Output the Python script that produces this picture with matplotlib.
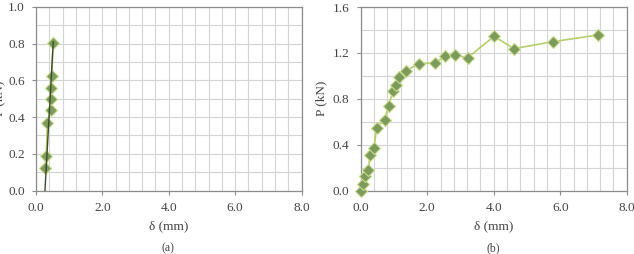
import numpy as np
import matplotlib
matplotlib.use("Agg")
import matplotlib.pyplot as plt
from matplotlib.ticker import MultipleLocator

plt.rcParams['font.family'] = ['Liberation Serif', 'DejaVu Serif']

# panel (a): load vs displacement
delta_a = [0.26, 0.31, 0.34, 0.45, 0.44, 0.45, 0.47, 0.52]
load_a = [0.123, 0.189, 0.368, 0.436, 0.497, 0.557, 0.622, 0.806]
# straight trend line drawn over panel (a)
fit_x = [0.27, 0.52]
fit_y = [0.0, 0.81]

# panel (b)
delta_b = [0.0, 0.08, 0.14, 0.23, 0.28, 0.40, 0.48, 0.72, 0.84, 0.97, 1.07,
           1.16, 1.36, 1.74, 2.22, 2.54, 2.84, 3.22, 4.01, 4.61, 5.79, 7.13]
load_b = [0.0, 0.061, 0.128, 0.183, 0.308, 0.372, 0.549, 0.618, 0.740, 0.865,
          0.917, 0.990, 1.042, 1.106, 1.112, 1.170, 1.179, 1.159, 1.344,
          1.237, 1.298, 1.356]

line_col = '#b5cf6b'
face_col = '#7b9a5c'
edge_col = '#c9dc8c'
grid_col = '#d4d4d4'
spine_col = '#8c8c8c'
text_col = '#444444'

W, H = 634, 254
fig = plt.figure(figsize=(W / 100, H / 100), dpi=100)

def px_axes(l, r, t, b):
    return fig.add_axes([l / W, 1 - b / H, (r - l) / W, (b - t) / H])

ax1 = px_axes(36, 301.5, 7, 190.5)
ax2 = px_axes(360.7, 626.7, 7, 190.5)


def style(ax, ymax, ymajor, yminor):
    ax.set_xlim(0, 8)
    ax.set_ylim(0, ymax)
    ax.xaxis.set_major_locator(MultipleLocator(2))
    ax.xaxis.set_minor_locator(MultipleLocator(0.4))
    ax.yaxis.set_major_locator(MultipleLocator(ymajor))
    ax.yaxis.set_minor_locator(MultipleLocator(yminor))
    ax.xaxis.set_major_formatter(matplotlib.ticker.FormatStrFormatter('%.1f'))
    ax.yaxis.set_major_formatter(matplotlib.ticker.FormatStrFormatter('%.1f'))
    ax.grid(True, which='both', color=grid_col, linewidth=0.8)
    ax.set_axisbelow(True)
    for s in ax.spines.values():
        s.set_color(spine_col)
        s.set_linewidth(0.9)
    ax.tick_params(which='major', direction='out', length=3, width=0.8,
                   color=spine_col, labelsize=9.5, labelcolor=text_col, pad=5)
    ax.tick_params(which='minor', length=0)
    ax.set_xlabel('δ (mm)', fontsize=9.5, color=text_col, labelpad=5)


style(ax1, 1.0, 0.2, 0.1)
style(ax2, 1.6, 0.4, 0.2)

ax1.plot(delta_a, load_a, color=line_col, linewidth=1.2, marker='D',
         markersize=6.5, markerfacecolor=face_col, markeredgecolor=edge_col,
         markeredgewidth=0.8, zorder=3)
ax1.plot(fit_x, fit_y, color='#3d4a30', linewidth=1.0, zorder=4)

ax2.plot(delta_b, load_b, color=line_col, linewidth=1.2, marker='D',
         markersize=6.5, markerfacecolor=face_col, markeredgecolor=edge_col,
         markeredgewidth=0.8, zorder=3, clip_on=False)

ax1.set_ylabel('P (kN)', fontsize=9.5, color=text_col)
ax1.yaxis.set_label_coords(-31 / 265.5, 0.5)
ax2.set_ylabel('P (kN)', fontsize=9.5, color=text_col)
ax2.yaxis.set_label_coords(-33 / 266, 0.5)

fig.text(168 / W, 1 - 248 / H, '(a)', ha='center', va='center',
         fontsize=8.5, color=text_col)
fig.text(493 / W, 1 - 248 / H, '(b)', ha='center', va='center',
         fontsize=8.5, color=text_col)

fig.savefig('out.png', dpi=100, facecolor='white')
